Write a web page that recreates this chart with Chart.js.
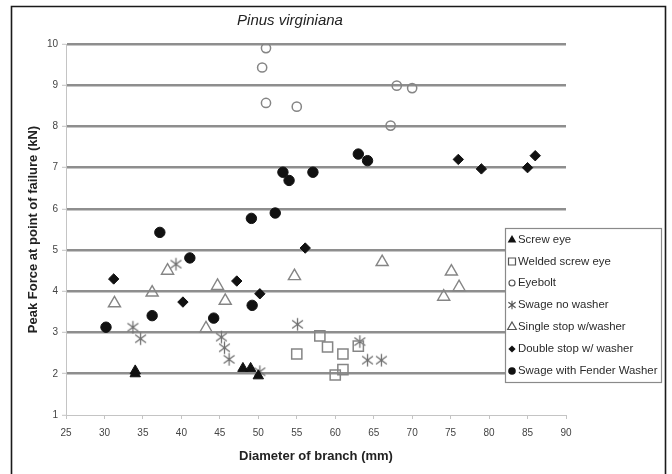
<!DOCTYPE html>
<html>
<head>
<meta charset="utf-8">
<script src="https://cdn.jsdelivr.net/npm/chart.js@4/dist/chart.umd.min.js"></script>
<style>
  html, body { margin: 0; padding: 0; background: #fff; }
  #wrap { width: 672px; height: 474px; position: relative; }
</style>
</head>
<body>
<div id="wrap"><canvas id="c" width="672" height="474"></canvas></div>
<script>
// ---- Data ----
const seriesNames = ['Screw eye', 'Welded screw eye', 'Eyebolt', 'Swage no washer',
  'Single stop w/washer', 'Double stop w/ washer', 'Swage with Fender Washer'];

const screwEyeX = [34, 34, 48, 49, 50];
const screwEyeY = [2.07, 2.0, 2.13, 2.13, 1.95];

const weldedX = [55, 58, 59, 61, 63, 61, 60];
const weldedY = [2.48, 2.92, 2.65, 2.48, 2.67, 2.1, 1.97];

const eyeboltX = [50.5, 51, 51, 55, 67.2, 68, 70];
const eyeboltY = [9.43, 9.9, 8.57, 8.48, 8.02, 8.99, 8.93];

const swageNoX = [33.7, 34.7, 39.3, 45.2, 45.6, 46.2, 50.2, 55.1, 63.2, 64.2, 66];
const swageNoY = [3.13, 2.85, 4.66, 2.89, 2.63, 2.35, 2.05, 3.2, 2.78, 2.33, 2.33];

const singleX = [31.3, 36.2, 38.2, 43.2, 44.7, 45.7, 54.7, 66.1, 74.1, 75.1, 76.1];
const singleY = [3.71, 3.97, 4.5, 3.1, 4.13, 3.77, 4.37, 4.71, 3.87, 4.48, 4.1];

const doubleX = [31.2, 40.2, 47.2, 50.2, 56.1, 76, 79, 85, 86];
const doubleY = [4.3, 3.74, 4.25, 3.94, 5.05, 7.2, 6.97, 7.0, 7.29];

const fenderX = [30.2, 36.2, 37.2, 41.1, 44.2, 49.2, 49.1, 52.2, 53.2, 54, 57.1, 63, 64.2];
const fenderY = [3.13, 3.41, 5.43, 4.81, 3.35, 3.66, 5.77, 5.9, 6.89, 6.69, 6.89, 7.33, 7.17];

const xTickMin = 25, xTickMax = 90, xTickStep = 5;
const yTickMin = 1, yTickMax = 10, yTickStep = 1;

// ---- helpers ----
function pts(xs, ys) { return xs.map((x, i) => ({ x: x, y: ys[i] })); }

const FONT = "'Liberation Sans', Arial, sans-serif";
const GRAY = '#858585';
const BLACK = '#111111';

function makeAsterisk(size, color, lw) {
  const c = document.createElement('canvas');
  c.width = size; c.height = size;
  const g = c.getContext('2d');
  g.strokeStyle = color; g.lineWidth = lw; g.lineCap = 'butt';
  const m = size / 2, a = size * 0.42, d = size * 0.36;
  g.beginPath();
  g.moveTo(m, m - a); g.lineTo(m, m + a);
  g.moveTo(m - d, m - d * 0.75); g.lineTo(m + d, m + d * 0.75);
  g.moveTo(m - d, m + d * 0.75); g.lineTo(m + d, m - d * 0.75);
  g.stroke();
  return c;
}
const asterisk = makeAsterisk(15, '#707070', 1.3);
const asteriskSmall = makeAsterisk(10, '#505050', 1.1);

const styles = [
  { pointStyle: 'triangle', radius: 6, bg: BLACK, border: BLACK, bw: 1 },
  { pointStyle: 'rect', radius: 7.2, bg: 'rgba(0,0,0,0)', border: GRAY, bw: 1.5 },
  { pointStyle: 'circle', radius: 4.6, bg: 'rgba(0,0,0,0)', border: GRAY, bw: 1.5 },
  { pointStyle: asterisk, radius: 7, bg: GRAY, border: GRAY, bw: 1 },
  { pointStyle: 'triangle', radius: 7, bg: 'rgba(0,0,0,0)', border: GRAY, bw: 1.4 },
  { pointStyle: 'rectRot', radius: 5.2, bg: BLACK, border: BLACK, bw: 1 },
  { pointStyle: 'circle', radius: 5.2, bg: BLACK, border: BLACK, bw: 1 }
];

const dataSets = [
  pts(screwEyeX, screwEyeY), pts(weldedX, weldedY), pts(eyeboltX, eyeboltY),
  pts(swageNoX, swageNoY), pts(singleX, singleY), pts(doubleX, doubleY), pts(fenderX, fenderY)
];

const datasets = dataSets.map((d, i) => ({
  label: seriesNames[i],
  data: d,
  pointStyle: styles[i].pointStyle,
  pointRadius: styles[i].radius,
  pointHoverRadius: styles[i].radius,
  backgroundColor: styles[i].bg,
  borderColor: styles[i].border,
  pointBorderWidth: styles[i].bw,
  showLine: false
}));

// legend marker drawing (legend only)
function legendMarker(ctx, i, x, y) {
  ctx.save();
  ctx.lineWidth = 1.2;
  const s = i;
  ctx.beginPath();
  if (s === 0 || s === 4) {
    const r = 5;
    ctx.moveTo(x, y - r);
    ctx.lineTo(x + 0.866 * r, y + 0.5 * r);
    ctx.lineTo(x - 0.866 * r, y + 0.5 * r);
    ctx.closePath();
    if (s === 0) { ctx.fillStyle = BLACK; ctx.fill(); }
    else { ctx.strokeStyle = '#555'; ctx.stroke(); }
  } else if (s === 1) {
    ctx.rect(x - 3.5, y - 3.5, 7, 7);
    ctx.strokeStyle = '#555'; ctx.stroke();
  } else if (s === 2) {
    ctx.arc(x, y, 3, 0, Math.PI * 2);
    ctx.strokeStyle = '#555'; ctx.stroke();
  } else if (s === 3) {
    ctx.drawImage(asteriskSmall, x - 5, y - 5);
  } else if (s === 5) {
    const r = 3.6;
    ctx.moveTo(x, y - r); ctx.lineTo(x + r, y); ctx.lineTo(x, y + r); ctx.lineTo(x - r, y);
    ctx.closePath(); ctx.fillStyle = BLACK; ctx.fill();
  } else if (s === 6) {
    ctx.arc(x, y, 3.8, 0, Math.PI * 2);
    ctx.fillStyle = BLACK; ctx.fill();
  }
  ctx.restore();
}

const decorPlugin = {
  id: 'decor',
  afterDraw(chart) {
    const ctx = chart.ctx;
    // legend box
    const lx = 505, ly = 228, lw = 156, lh = 154;
    ctx.save();
    ctx.fillStyle = '#ffffff';
    ctx.fillRect(lx, ly, lw, lh);
    ctx.strokeStyle = '#8a8a8a';
    ctx.lineWidth = 1.2;
    ctx.strokeRect(lx + 0.5, ly + 0.5, lw, lh);
    ctx.font = '11.4px ' + FONT;
    ctx.fillStyle = '#2a2a2a';
    ctx.textBaseline = 'middle';
    ctx.textAlign = 'left';
    const rows = [240, 261.5, 283, 305, 327, 349, 371];
    seriesNames.forEach((name, i) => {
      legendMarker(ctx, i, 512, rows[i]);
      ctx.fillText(name, 518, rows[i]);
    });
    // outer frame
    ctx.strokeStyle = '#1a1a1a';
    ctx.lineWidth = 1.6;
    ctx.beginPath();
    ctx.moveTo(11.5, 480);
    ctx.lineTo(11.5, 6.5);
    ctx.lineTo(665.5, 6.5);
    ctx.lineTo(665.5, 480);
    ctx.stroke();
    ctx.restore();
  }
};

new Chart(document.getElementById('c'), {
  type: 'scatter',
  data: { datasets: datasets },
  options: {
    responsive: false,
    animation: false,
    events: [],
    layout: { padding: { left: 14, right: 106, top: 0, bottom: 0 } },
    plugins: {
      legend: { display: false },
      tooltip: { enabled: false },
      title: {
        display: true,
        text: 'Pinus virginiana',
        color: '#222',
        font: { family: FONT, size: 15, style: 'italic', weight: 'normal', lineHeight: 1.2 },
        padding: { top: 12, bottom: 14 }
      }
    },
    scales: {
      x: {
        type: 'linear',
        min: xTickMin, max: xTickMax,
        afterFit(scale) { scale.height = 59; },
        ticks: {
          stepSize: xTickStep,
          color: '#444',
          font: { family: FONT, size: 10 },
          padding: 8,
          maxRotation: 0
        },
        grid: {
          drawOnChartArea: false,
          drawTicks: true,
          tickLength: 4,
          tickColor: '#c4c4c4',
          tickWidth: 1
        },
        border: { display: true, color: '#c4c4c4', width: 1 },
        title: {
          display: true,
          text: 'Diameter of branch (mm)',
          color: '#222',
          font: { family: FONT, size: 13, weight: 'bold', lineHeight: 1.2 },
          padding: { top: 0, bottom: 10 }
        }
      },
      y: {
        type: 'linear',
        min: yTickMin, max: yTickMax,
        afterFit(scale) { scale.width = 52; },
        ticks: {
          stepSize: yTickStep,
          color: '#444',
          font: { family: FONT, size: 10 },
          padding: 4
        },
        grid: {
          drawOnChartArea: true,
          drawTicks: true,
          tickLength: 4,
          tickColor: '#c4c4c4',
          tickWidth: 1,
          lineWidth: 2.6,
          color: (c) => (c.tick && c.tick.value === yTickMin) ? 'rgba(0,0,0,0)' : '#8e8e8e'
        },
        border: { display: true, color: '#c4c4c4', width: 1 },
        title: {
          display: true,
          text: 'Peak Force at point of failure (kN)',
          color: '#222',
          font: { family: FONT, size: 13, weight: 'bold', lineHeight: 1.2 },
          padding: { top: 12, bottom: 0 }
        }
      }
    }
  },
  plugins: [decorPlugin]
});
</script>
</body>
</html>
